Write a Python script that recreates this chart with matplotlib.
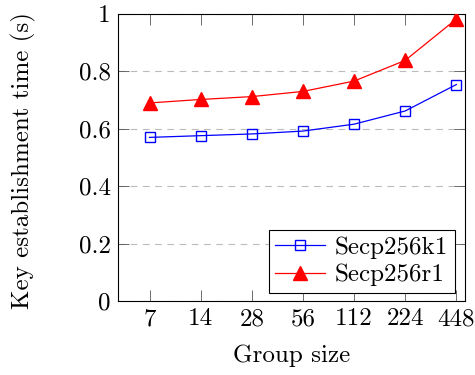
import matplotlib.pyplot as plt

# Data
group_sizes = ["7", "14", "28", "56", "112", "224", "448"]
secp256k1 = [0.570, 0.576, 0.582, 0.592, 0.616, 0.662, 0.754]
secp256r1 = [0.690, 0.702, 0.712, 0.730, 0.766, 0.838, 0.982]
y_ticks = [0, 0.2, 0.4, 0.6, 0.8, 1]
y_tick_labels = ["0", "0.2", "0.4", "0.6", "0.8", "1"]

plt.rcParams["font.family"] = ["cmr10", "DejaVu Serif"]
plt.rcParams["mathtext.fontset"] = "cm"

fs = 18

fig = plt.figure(figsize=(4.75, 3.75), dpi=100)
ax = fig.add_axes([0.248, 0.197, 0.731, 0.766])

x = range(len(group_sizes))
ax.plot(x, secp256k1, color="blue", marker="s", markersize=7.5,
        markerfacecolor="none", markeredgecolor="blue", markeredgewidth=1.0,
        linewidth=0.9, label="Secp256k1", zorder=3)
ax.plot(x, secp256r1, color="red", marker="^", markersize=9.5,
        markerfacecolor="red", markeredgecolor="red",
        linewidth=0.9, label="Secp256r1", zorder=3)

ax.set_xlim(-0.62, 6.17)
ax.set_ylim(0, 1)
ax.set_xticks(list(x))
ax.set_xticklabels(group_sizes, fontsize=fs)
ax.set_yticks(y_ticks)
ax.set_yticklabels(y_tick_labels, fontsize=fs)

ax.tick_params(direction="in", length=8, width=0.6, color="#555555",
               top=True, right=True, pad=5)
ax.yaxis.grid(True, linestyle=(0, (6, 5)), color="#bbbbbb", linewidth=0.8)
ax.set_axisbelow(True)
for s in ax.spines.values():
    s.set_linewidth(0.8)

ax.set_xlabel("Group size", fontsize=fs, labelpad=10)
ax.set_ylabel("Key establishment time (s)", fontsize=fs)
ax.yaxis.set_label_coords(-0.235, 0.49)

leg = ax.legend(loc="lower right", fontsize=fs, frameon=True, fancybox=False,
                edgecolor="black", framealpha=1, handlelength=2.0,
                bbox_to_anchor=(0.97, 0.03),
                borderaxespad=0.0, handletextpad=0.4, borderpad=0.25,
                labelspacing=0.2)
leg.get_frame().set_linewidth(0.8)

fig.savefig("out.png", dpi=100)
